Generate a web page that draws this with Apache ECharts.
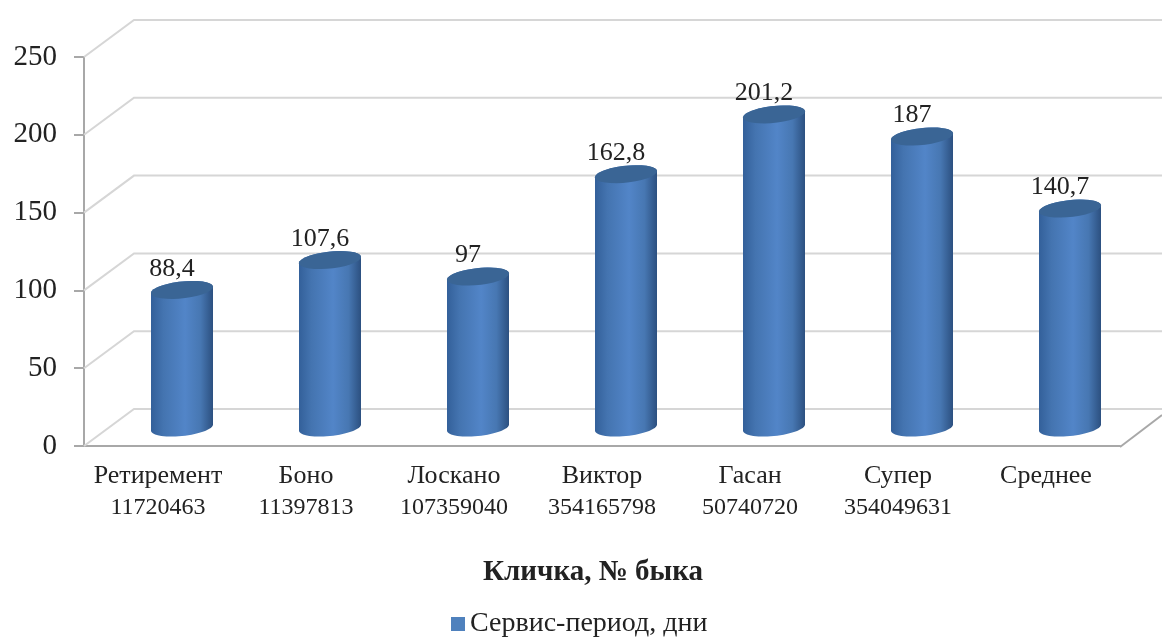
<!DOCTYPE html>
<html>
<head>
<meta charset="utf-8">
<title>Сервис-период</title>
<script src="https://cdn.jsdelivr.net/npm/echarts@6/dist/echarts.min.js"></script>
<style>
html, body { margin: 0; padding: 0; background: #fff; }
#chart { width: 1162px; height: 637px; }
</style>
</head>
<body>
<div id="chart"></div>
<script>
const categories = [
  'Ретиремент\n11720463',
  'Боно\n11397813',
  'Лоскано\n107359040',
  'Виктор\n354165798',
  'Гасан\n50740720',
  'Супер\n354049631',
  'Среднее',
];
const serviceDays = [88.4, 107.6, 97, 162.8, 201.2, 187, 140.7];
const yTicks = [0, 50, 100, 150, 200, 250];
const seriesName = 'Сервис-период, дни';

const FONT = '"Liberation Serif", "Times New Roman", serif';
const TEXT_COLOR = '#222';
// псевдо-3D: сдвиг задней стенки и сдвиг цилиндров относительно оси
const DEPTH_X = 50;
const DEPTH_Y = 37;
const BAR_SHIFT_X = 24;
const BAR_SHIFT_Y = 18.5;
const BAR_A = 31;
const BAR_B = 8.5;
const BAR_TILT = 0.1;

const chart = echarts.init(document.getElementById('chart'));

// точки наклонного эллипса от угла from до угла to
function ellipsePoints(cx, cy, from, to) {
  const pts = [];
  const steps = 30;
  for (let i = 0; i <= steps; i++) {
    const t = from + ((to - from) * i) / steps;
    const dx = BAR_A * Math.cos(t);
    pts.push([cx + dx, cy + BAR_B * Math.sin(t) - dx * BAR_TILT]);
  }
  return pts;
}

const renderWall = (params, api) => {
  const tick = api.value(1);
  const y = api.coord([0, tick])[1];
  const sys = params.coordSys;
  const children = [
    {
      type: 'polyline',
      shape: {
        points: [
          [sys.x, y],
          [sys.x + DEPTH_X, y - DEPTH_Y],
          [chart.getWidth(), y - DEPTH_Y],
        ],
      },
      style: { fill: null, stroke: '#d6d6d6', lineWidth: 2 },
    },
  ];
  if (tick === 0) {
    children.push({
      type: 'line',
      shape: { x1: sys.x + sys.width, y1: y + 1, x2: chart.getWidth(), y2: y - 31 },
      style: { stroke: '#a8a8a8', lineWidth: 2 },
    });
  }
  return { type: 'group', children };
};

const renderCylinder = (params, api) => {
  const value = api.value(1);
  const top = api.coord([api.value(0), value]);
  const base = api.coord([api.value(0), 0]);
  const cx = top[0] + BAR_SHIFT_X;
  const topY = top[1] - BAR_SHIFT_Y;
  const baseY = base[1] - BAR_SHIFT_Y;
  const body = ellipsePoints(cx, baseY, 0, Math.PI).concat(ellipsePoints(cx, topY, Math.PI, 2 * Math.PI));
  return {
    type: 'group',
    children: [
      {
        type: 'polygon',
        shape: { points: body },
        style: {
          fill: new echarts.graphic.LinearGradient(0, 0, 1, 0, [
            { offset: 0, color: '#33609a' },
            { offset: 0.2, color: '#4474b0' },
            { offset: 0.55, color: '#5285c8' },
            { offset: 0.8, color: '#4777b2' },
            { offset: 1, color: '#2c5080' },
          ]),
        },
      },
      {
        type: 'polygon',
        shape: { points: ellipsePoints(cx, topY, 0, 2 * Math.PI) },
        style: { fill: '#3a6595' },
      },
      {
        type: 'text',
        style: {
          text: String(value).replace('.', ','),
          x: cx - 10,
          y: topY - 21,
          align: 'center',
          verticalAlign: 'middle',
          font: '26px ' + FONT,
          fill: TEXT_COLOR,
        },
      },
    ],
  };
};

chart.setOption({
  animation: false,
  backgroundColor: '#fff',
  title: {
    text: 'Кличка, № быка',
    left: 588,
    top: 553,
    textAlign: 'center',
    textStyle: { fontFamily: FONT, fontSize: 29, fontWeight: 'bold', color: TEXT_COLOR },
  },
  legend: {
    data: [seriesName],
    left: 446,
    top: 605,
    itemWidth: 14,
    itemHeight: 14,
    itemGap: 7,
    icon: 'rect',
    textStyle: { fontFamily: FONT, fontSize: 28, color: TEXT_COLOR },
  },
  grid: { left: 84, right: 42, top: 57, bottom: 191, containLabel: false, outerBoundsMode: 'none' },
  xAxis: {
    type: 'category',
    data: categories,
    axisLine: { lineStyle: { color: '#a8a8a8', width: 2 } },
    axisTick: { show: false },
    axisLabel: {
      interval: 0,
      margin: 14,
      fontFamily: FONT,
      color: TEXT_COLOR,
      formatter: (value) => {
        const parts = value.split('\n');
        return parts.length > 1 ? '{name|' + parts[0] + '}\n{code|' + parts[1] + '}' : '{name|' + parts[0] + '}';
      },
      rich: {
        name: { fontFamily: FONT, fontSize: 26, lineHeight: 32, color: TEXT_COLOR },
        code: { fontFamily: FONT, fontSize: 24, lineHeight: 32, color: TEXT_COLOR },
      },
    },
  },
  yAxis: {
    type: 'value',
    min: 0,
    max: 250,
    interval: 50,
    splitLine: { show: false },
    axisLine: { show: true, lineStyle: { color: '#a8a8a8', width: 2 } },
    axisTick: { show: true, length: 10, lineStyle: { color: '#a8a8a8', width: 2 } },
    axisLabel: { margin: 27, fontFamily: FONT, fontSize: 29, color: TEXT_COLOR },
  },
  series: [
    {
      name: 'wall',
      type: 'custom',
      z: 1,
      silent: true,
      renderItem: renderWall,
      encode: { x: 0, y: 1 },
      data: yTicks.map((t) => [0, t]),
    },
    {
      name: seriesName,
      type: 'custom',
      z: 3,
      itemStyle: { color: '#4f81bd' },
      renderItem: renderCylinder,
      encode: { x: 0, y: 1 },
      data: serviceDays.map((v, i) => [i, v]),
    },
  ],
});
</script>
</body>
</html>
